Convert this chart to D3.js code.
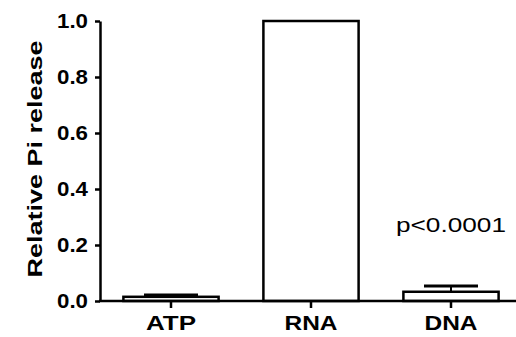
<!DOCTYPE html>
<html>
<head>
<meta charset="utf-8">
<script src="https://cdn.jsdelivr.net/npm/d3@7"></script>
<style>
  html, body { margin: 0; padding: 0; background: #fff; }
  svg { display: block; }
</style>
</head>
<body>
<svg id="chart" width="516" height="337"></svg>
<script>
var categories = ['ATP', 'RNA', 'DNA'];
var values = [0.015, 1.0, 0.033];
var errors = [0.006, 0, 0.021];
var yTicks = [0, 0.2, 0.4, 0.6, 0.8, 1.0];
var yTitle = 'Relative Pi release';
var pLabel = 'p<0.0001';

var svg = d3.select('#chart');
var font = 'Liberation Sans, Arial, sans-serif';

var x = d3.scaleBand()
  .domain(categories)
  .range([101, 521])
  .paddingInner(0.32)
  .paddingOuter(0.16);

var y = d3.scaleLinear()
  .domain([0, 1])
  .range([301, 21]);

// bars
svg.append('g').selectAll('rect')
  .data(categories)
  .enter().append('rect')
  .attr('x', function (d) { return x(d); })
  .attr('y', function (d, i) { return y(values[i]); })
  .attr('width', x.bandwidth())
  .attr('height', function (d, i) { return y(0) - y(values[i]); })
  .attr('fill', '#fff')
  .attr('stroke', '#000')
  .attr('stroke-width', 2.5);

// error bars (upper only)
var eb = svg.append('g');
categories.forEach(function (c, i) {
  if (!errors[i]) return;
  var cx = x(c) + x.bandwidth() / 2;
  eb.append('line')
    .attr('x1', cx).attr('x2', cx)
    .attr('y1', y(values[i])).attr('y2', y(values[i] + errors[i]))
    .attr('stroke', '#000').attr('stroke-width', 2);
  eb.append('line')
    .attr('x1', cx - 27).attr('x2', cx + 27)
    .attr('y1', y(values[i] + errors[i])).attr('y2', y(values[i] + errors[i]))
    .attr('stroke', '#000').attr('stroke-width', 3);
});

// y axis
var yAxis = svg.append('g')
  .attr('transform', 'translate(100,0)')
  .call(d3.axisLeft(y).tickValues(yTicks).tickFormat(d3.format('.1f'))
    .tickSize(5).tickSizeOuter(0).tickPadding(7));
yAxis.select('.domain').attr('stroke-width', 2.5);
yAxis.selectAll('.tick line').attr('stroke-width', 2.5);
yAxis.selectAll('.tick text')
  .attr('font-family', font)
  .attr('font-size', '20px')
  .attr('font-weight', 'bold')
  .attr('fill', '#000')
  .attr('textLength', 31)
  .attr('lengthAdjust', 'spacingAndGlyphs');

// x axis
var xAxis = svg.append('g')
  .attr('transform', 'translate(0,301)')
  .call(d3.axisBottom(x).tickSize(7).tickSizeOuter(0).tickPadding(7));
xAxis.select('.domain').attr('d', 'M99,0H516').attr('stroke-width', 2.5);
xAxis.selectAll('.tick line').attr('stroke-width', 2.5);
xAxis.selectAll('.tick text')
  .attr('font-family', font)
  .attr('font-size', '21px')
  .attr('font-weight', 'bold')
  .attr('fill', '#000')
  .attr('textLength', function (d) { return d === 'ATP' ? 50 : 53; })
  .attr('lengthAdjust', 'spacingAndGlyphs');

// y title
svg.append('text')
  .attr('transform', 'translate(42,' + ((y(0) + y(1)) / 2 - 2) + ') rotate(-90)')
  .attr('text-anchor', 'middle')
  .attr('font-family', font)
  .attr('font-size', '21px')
  .attr('font-weight', 'bold')
  .attr('textLength', 237)
  .attr('lengthAdjust', 'spacingAndGlyphs')
  .text(yTitle);

// significance label
svg.append('text')
  .attr('x', x('DNA') + x.bandwidth() / 2)
  .attr('y', 232)
  .attr('text-anchor', 'middle')
  .attr('font-family', font)
  .attr('font-size', '20px')
  .attr('textLength', 110)
  .attr('lengthAdjust', 'spacingAndGlyphs')
  .text(pLabel);
</script>
</body>
</html>
